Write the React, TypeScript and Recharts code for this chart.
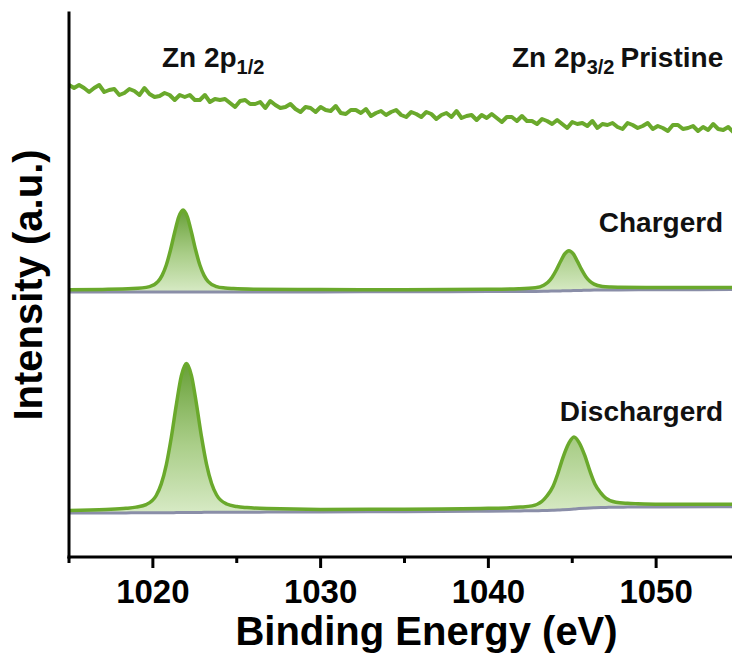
import React from 'react';
import { ComposedChart, Line, Area, XAxis, YAxis, ReferenceDot, Label } from 'recharts';

const FONT = '"Liberation Sans", Arial, Helvetica, sans-serif';

// ---------- data ----------
const xTicks = [1015, 1020, 1025, 1030, 1035, 1040, 1045, 1050, 1055];
const xTickLabels = ['1020', '1030', '1040', '1050'];

const pristineEnergy = [
  1015.0, 1015.3, 1015.6, 1015.9, 1016.2, 1016.5, 1016.8, 1017.1, 1017.4, 1017.7,
  1018.0, 1018.3, 1018.6, 1018.9, 1019.2, 1019.5, 1019.8, 1020.1, 1020.4, 1020.7,
  1021.0, 1021.3, 1021.6, 1021.9, 1022.2, 1022.5, 1022.8, 1023.1, 1023.4, 1023.7,
  1024.0, 1024.3, 1024.6, 1024.9, 1025.2, 1025.5, 1025.8, 1026.1, 1026.4, 1026.7,
  1027.0, 1027.3, 1027.6, 1027.9, 1028.2, 1028.5, 1028.8, 1029.1, 1029.4, 1029.7,
  1030.0, 1030.3, 1030.6, 1030.9, 1031.2, 1031.5, 1031.8, 1032.1, 1032.4, 1032.7,
  1033.0, 1033.3, 1033.6, 1033.9, 1034.2, 1034.5, 1034.8, 1035.1, 1035.4, 1035.7,
  1036.0, 1036.3, 1036.6, 1036.9, 1037.2, 1037.5, 1037.8, 1038.1, 1038.4, 1038.7,
  1039.0, 1039.3, 1039.6, 1039.9, 1040.2, 1040.5, 1040.8, 1041.1, 1041.4, 1041.7,
  1042.0, 1042.3, 1042.6, 1042.9, 1043.2, 1043.5, 1043.8, 1044.1, 1044.4, 1044.7,
  1045.0, 1045.3, 1045.6, 1045.9, 1046.2, 1046.5, 1046.8, 1047.1, 1047.4, 1047.7,
  1048.0, 1048.3, 1048.6, 1048.9, 1049.2, 1049.5, 1049.8, 1050.1, 1050.4, 1050.7,
  1051.0, 1051.3, 1051.6, 1051.9, 1052.2, 1052.5, 1052.8, 1053.1, 1053.4, 1053.7,
  1054.0, 1054.3, 1054.6,
];
const pristineIntensity = [
  472, 469, 472, 469, 465, 469, 472, 465, 467, 468,
  462, 464, 468, 466, 462, 469, 463, 460, 461, 464,
  462, 457, 462, 460, 462, 457, 457, 462, 455, 458,
  457, 458, 454, 450, 456, 457, 453, 453, 455, 449,
  456, 452, 449, 450, 453, 448, 445, 450, 449, 445,
  450, 447, 446, 451, 444, 443, 447, 447, 444, 448,
  441, 444, 446, 442, 445, 447, 442, 440, 445, 443,
  440, 445, 443, 438, 442, 444, 440, 446, 439, 441,
  442, 437, 442, 439, 443, 439, 435, 440, 440, 436,
  441, 436, 436, 433, 438, 436, 433, 437, 433, 429,
  435, 433, 434, 431, 436, 429, 433, 432, 434, 430,
  428, 434, 432, 429, 431, 434, 428, 431, 429, 426,
  432, 432, 428, 429, 431, 426, 430, 427, 433, 428,
  427, 430, 425,
];

const chargedEnergy = [
  1015, 1017, 1018.8, 1019.8, 1020.3, 1020.55, 1020.8, 1021.05, 1021.3, 1021.55,
  1021.8, 1022.05, 1022.3, 1022.55, 1022.8, 1023.05, 1023.3, 1023.8, 1024.3, 1024.8,
  1026, 1030, 1035, 1040, 1041.8, 1042.8, 1043.3, 1043.55, 1043.8, 1044.05,
  1044.3, 1044.55, 1044.8, 1045.05, 1045.3, 1045.55, 1045.8, 1046.05, 1046.3, 1046.8,
  1047.3, 1047.8, 1050, 1055,
];
const chargedBackground = [
  265.0, 265.0, 265.0, 265.0, 265.0, 265.0, 265.0, 265.0, 265.0, 265.0,
  265.0, 265.0, 265.0, 265.0, 265.0, 265.0, 265.0, 265.0, 265.0, 265.0,
  265.0, 265.1, 265.2, 265.4, 265.5, 265.6, 265.7, 265.8, 265.9, 266.0,
  266.1, 266.2, 266.3, 266.4, 266.5, 266.6, 266.7, 266.8, 266.9, 267.0,
  267.0, 267.1, 267.2, 267.4,
];
const chargedFit = [
  267.3, 267.6, 268.4, 270.4, 275.3, 281.6, 292.0, 307.0, 324.8, 340.4,
  347.0, 340.4, 324.8, 307.0, 292.0, 281.6, 275.3, 270.4, 269.0, 268.4,
  267.8, 267.4, 267.3, 267.7, 268.2, 269.2, 271.7, 274.7, 279.8, 287.0,
  295.5, 303.1, 306.3, 303.3, 295.9, 287.6, 280.6, 275.7, 272.9, 270.6,
  270.0, 269.8, 269.5, 269.5,
];

const dischargedEnergy = [
  1015, 1017.2, 1018.4, 1019.0, 1019.6, 1020.2, 1020.5, 1020.8, 1021.1, 1021.4,
  1021.7, 1022.0, 1022.3, 1022.6, 1022.9, 1023.2, 1023.5, 1023.8, 1024.4, 1025.0,
  1025.6, 1026.8, 1030, 1035, 1040, 1041.3, 1041.9, 1042.6, 1043.2, 1043.5,
  1043.85, 1044.15, 1044.45, 1044.8, 1045.1, 1045.4, 1045.75, 1046.05, 1046.35, 1046.7,
  1047.0, 1047.6, 1048.3, 1048.9, 1050.2, 1055,
];
const dischargedBackground = [
  44.0, 44.1, 44.1, 44.2, 44.2, 44.2, 44.3, 44.3, 44.3, 44.4,
  44.4, 44.5, 44.5, 44.6, 44.6, 44.7, 44.7, 44.7, 44.8, 44.8,
  44.8, 44.9, 45.0, 45.3, 45.8, 46.0, 46.1, 46.2, 46.4, 46.5,
  46.7, 46.9, 47.2, 47.6, 48.0, 48.4, 48.8, 49.1, 49.3, 49.5,
  49.6, 49.8, 49.9, 50.0, 50.1, 50.4,
];
const dischargedFit = [
  46.5, 47.6, 48.7, 49.9, 52.4, 61.5, 73.1, 92.2, 119.8, 152.5,
  181.3, 193.5, 181.4, 152.7, 120.1, 92.6, 73.5, 62.0, 53.0, 50.5,
  49.4, 48.4, 47.6, 47.8, 48.7, 49.3, 49.9, 51.1, 55.7, 61.2,
  70.5, 83.9, 99.7, 113.9, 120.0, 114.7, 101.3, 86.1, 73.1, 64.2,
  58.9, 54.7, 53.7, 53.3, 52.8, 52.7,
];

const annotationTexts = ['Zn 2p', 'Zn 2p', 'Pristine', 'Chargerd', 'Dischargerd'];
const annotationSubs = ['1/2', '3/2', '', '', ''];
const annotationX = [1020.54, 1041.41, 1054.0, 1054.0, 1054.0];
const annotationY = [490, 490, 490, 325, 136];
const annotationAnchor = ['start', 'start', 'end', 'end', 'end'];

// ---------- tables built from arrays ----------
const pristineRows = pristineEnergy.map((e, i) => ({ e, v: pristineIntensity[i] }));
const chargedRows = chargedEnergy.map((e, i) => ({
  e,
  bg: chargedBackground[i],
  fit: chargedFit[i],
  band: [chargedBackground[i], chargedFit[i]],
}));
const dischargedRows = dischargedEnergy.map((e, i) => ({
  e,
  bg: dischargedBackground[i],
  fit: dischargedFit[i],
  band: [dischargedBackground[i], dischargedFit[i]],
}));

const GREEN = '#6aa92c';
const BASE = '#8a8ea8';

function BottomTick(props: any) {
  const { x, y, payload } = props;
  const v = payload.value;
  const label = String(v);
  const major = xTickLabels.includes(label);
  return (
    <g>
      <line x1={x} x2={x} y1={y} y2={y + (major ? 11 : 6)} stroke="#000" strokeWidth={3} />
      {major && (
        <text x={x} y={y + 46} textAnchor="middle" fontFamily={FONT} fontWeight="bold" fontSize={33} fill="#000">
          {label}
        </text>
      )}
    </g>
  );
}

function XTitle(props: any) {
  const { x, y, width } = props.viewBox;
  return (
    <text x={x + width / 2 + 22} y={y + 88} textAnchor="middle" fontFamily={FONT} fontWeight="bold" fontSize={40} fill="#000">
      Binding Energy (eV)
    </text>
  );
}

function YTitle(props: any) {
  const { x, y, height } = props.viewBox;
  const cx = x + 42;
  const cy = y + height / 2;
  return (
    <text x={cx} y={cy} transform={`rotate(-90 ${cx} ${cy})`} textAnchor="middle" fontFamily={FONT} fontWeight="bold" fontSize={40} fill="#000">
      Intensity (a.u.)
    </text>
  );
}

function makeAnnotation(i: number) {
  return (p: any) => (
    <text x={p.cx} y={p.cy} textAnchor={annotationAnchor[i] as any} fontFamily={FONT} fontWeight="bold" fontSize={28} fill="#111">
      {annotationTexts[i]}
      {annotationSubs[i] && (
        <tspan fontSize={20} dy={7}>
          {annotationSubs[i]}
        </tspan>
      )}
    </text>
  );
}

export default function App() {
  return (
    <div style={{ position: 'absolute', left: 0, top: 0, width: 732, height: 660, overflow: 'hidden', background: '#fff' }}>
      <ComposedChart width={745} height={660} margin={{ top: 13, right: 5, bottom: 0, left: 0 }}>
        <defs>
          <linearGradient id="peakFill" x1="0" y1="0" x2="0" y2="1">
            <stop offset="0%" stopColor="#5f9a2c" stopOpacity={0.95} />
            <stop offset="55%" stopColor="#9cc675" stopOpacity={0.85} />
            <stop offset="100%" stopColor="#d3e8bf" stopOpacity={0.9} />
          </linearGradient>
        </defs>
        <XAxis
          dataKey="e"
          type="number"
          domain={[1015, 1055]}
          allowDataOverflow
          ticks={xTicks}
          interval={0}
          tick={<BottomTick />}
          tickLine={false}
          tickSize={0}
          tickMargin={0}
          axisLine={{ stroke: '#000', strokeWidth: 3, strokeLinecap: 'square' }}
          height={103}
        >
          <Label content={<XTitle />} />
        </XAxis>
        <XAxis
          xAxisId="top"
          orientation="top"
          dataKey="e"
          type="number"
          domain={[1015, 1055]}
          allowDataOverflow
          tick={false}
          tickLine={false}
          axisLine={{ stroke: '#000', strokeWidth: 3, strokeLinecap: 'square' }}
          height={0}
        />
        <YAxis
          type="number"
          domain={[0, 544]}
          allowDataOverflow
          width={69}
          tick={false}
          tickLine={false}
          axisLine={{ stroke: '#000', strokeWidth: 3, strokeLinecap: 'square' }}
        >
          <Label content={<YTitle />} />
        </YAxis>

        <Line data={pristineRows} dataKey="v" type="linear" stroke={GREEN} strokeWidth={4} strokeLinejoin="round" dot={false} isAnimationActive={false} />

        <Area data={chargedRows} dataKey="band" type="monotone" stroke="none" fill="url(#peakFill)" fillOpacity={1} isAnimationActive={false} />
        <Line data={chargedRows} dataKey="bg" type="monotone" stroke={BASE} strokeWidth={3} dot={false} isAnimationActive={false} />
        <Line data={chargedRows} dataKey="fit" type="monotone" stroke={GREEN} strokeWidth={3.5} dot={false} isAnimationActive={false} />

        <Area data={dischargedRows} dataKey="band" type="monotone" stroke="none" fill="url(#peakFill)" fillOpacity={1} isAnimationActive={false} />
        <Line data={dischargedRows} dataKey="bg" type="monotone" stroke={BASE} strokeWidth={3} dot={false} isAnimationActive={false} />
        <Line data={dischargedRows} dataKey="fit" type="monotone" stroke={GREEN} strokeWidth={3.5} dot={false} isAnimationActive={false} />

        {annotationTexts.map((t, i) => (
          <ReferenceDot key={i} x={annotationX[i]} y={annotationY[i]} r={0} shape={makeAnnotation(i)} />
        ))}
      </ComposedChart>
    </div>
  );
}
